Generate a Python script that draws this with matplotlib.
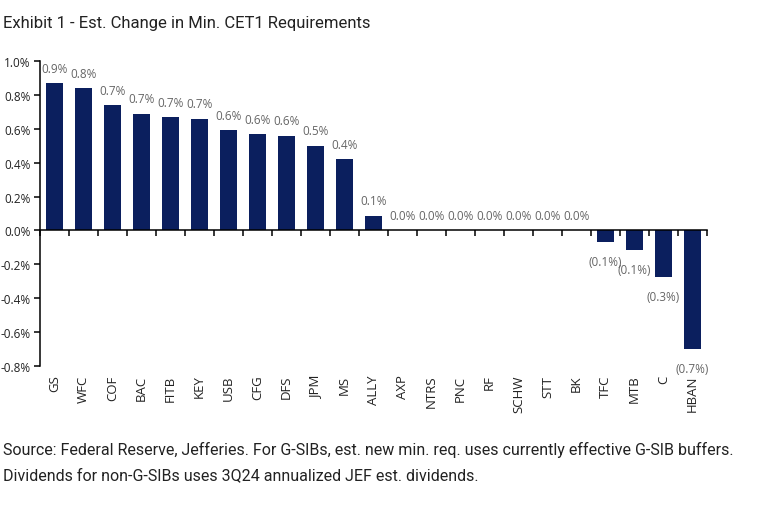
import matplotlib
matplotlib.use("Agg")
from matplotlib import pyplot as plt
from matplotlib import transforms

plt.rcParams['font.family'] = ['Open Sans', 'DejaVu Sans']

banks = ["GS", "WFC", "COF", "BAC", "FITB", "KEY", "USB", "CFG", "DFS", "JPM", "MS",
         "ALLY", "AXP", "NTRS", "PNC", "RF", "SCHW", "STT", "BK", "TFC", "MTB", "C", "HBAN"]
change = [0.87, 0.84, 0.74, 0.69, 0.67, 0.66, 0.59, 0.57, 0.56, 0.50, 0.42,
          0.088, 0.0, 0.0, 0.0, 0.0, 0.0, 0.0, 0.0, -0.07, -0.118, -0.277, -0.70]
y_ticks = [1.0, 0.8, 0.6, 0.4, 0.2, 0.0, -0.2, -0.4, -0.6, -0.8]

title = "Exhibit 1 - Est. Change in Min. CET1 Requirements"
source_1 = ("Source: Federal Reserve, Jefferies. For G-SIBs, est. new min. req. uses currently "
            "effective G-SIB buffers.")
source_2 = "Dividends for non-G-SIBs uses 3Q24 annualized JEF est. dividends."

navy = "#0b1f5e"

fig = plt.figure(figsize=(7.6, 5.06), dpi=100)
ax = fig.add_axes([40 / 760, 1 - 367 / 506, 667 / 760, 305 / 506])

x = range(len(banks))
ax.bar(x, change, width=0.6, color=navy, zorder=2)


def fmt(v):
    r = round(abs(v), 1)
    return "({:.1f}%)".format(r) if v < 0 else "{:.1f}%".format(r)


for i, v in enumerate(change):
    if v < 0:
        ax.annotate(fmt(v), (i, v), xytext=(0, -9), textcoords="offset points",
                    ha="center", va="top", fontsize=8.5, color="#666666")
    else:
        ax.annotate(fmt(v), (i, v), xytext=(0, 6), textcoords="offset points",
                    ha="center", va="bottom", fontsize=8.5, color="#666666")

ax.set_xlim(-0.5, len(banks) - 0.5)
ax.set_ylim(-0.8, 1.0)

# category boundaries as ticks on the zero line
ax.spines["bottom"].set_position(("data", 0))
ax.spines["top"].set_visible(False)
ax.spines["right"].set_visible(False)
ax.spines["left"].set_linewidth(1.1)
ax.spines["bottom"].set_linewidth(1.1)
ax.set_xticks([k - 0.5 for k in range(len(banks) + 1)])
ax.set_xticklabels([])
ax.tick_params(axis="x", direction="out", length=4, width=1.1)

ax.set_yticks(y_ticks)
ax.set_yticklabels(["{:.1f}%".format(t) if t >= 0 else "-{:.1f}%".format(-t) for t in y_ticks],
                   fontsize=8.5, color="#222222")
ax.tick_params(axis="y", direction="out", length=4, width=1.1, pad=3)

# bank names below the plot area
trans = transforms.blended_transform_factory(ax.transData, ax.transAxes)
for i, b in enumerate(banks):
    ax.text(i, -0.028, b, transform=trans, rotation=90, ha="center", va="top",
            fontsize=9.5, color="#222222")

fig.text(3 / 760, 1 - 28 / 506, title, family="Roboto", ha="left", va="baseline",
         fontsize=12, color="#222222")
fig.text(3 / 760, 1 - 455 / 506, source_1, family="Roboto", ha="left", va="baseline",
         fontsize=11.5, color="#222222")
fig.text(3 / 760, 1 - 480 / 506, source_2, family="Roboto", ha="left", va="baseline",
         fontsize=11.5, color="#222222")

fig.savefig("out.png", dpi=100)
